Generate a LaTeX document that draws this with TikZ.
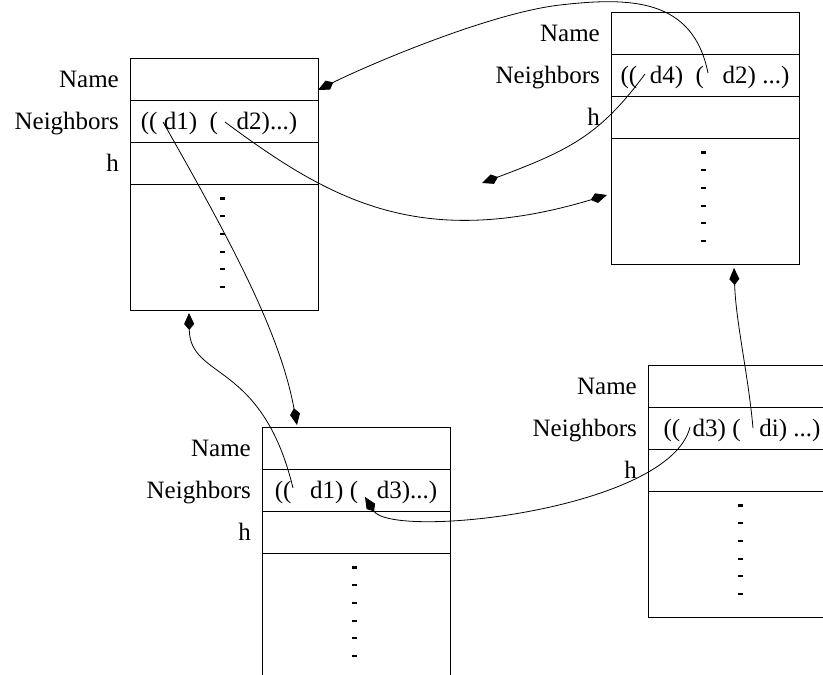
\documentclass[tikz,border=0pt]{standalone}
\usepackage{fontspec}
\setmainfont{Liberation Serif}
\usetikzlibrary{arrows.meta,positioning}

\begin{document}
\begin{tikzpicture}[x=1pt,y=-1pt,
  txt/.style={font=\fontsize{25}{30}\selectfont, text height=16pt, text depth=0pt},
  field/.style={txt, draw, line width=0.8pt, minimum width=188pt, minimum height=42pt, inner sep=0pt, outer sep=0pt, anchor=north west},
  body/.style={field, minimum height=126pt},
  lbl/.style={txt, inner sep=0pt},
  link/.style={line width=0.8pt, -{Kite[length=17pt,width=10pt,inset=6pt]}},
  tick/.style={line width=2.2pt}]
\useasboundingbox (0,0) rectangle (823,675);
\clip (0,0) rectangle (823,675);

% record a
\node[field](a-name) at (130,58) {};
\node[field, below=0pt of a-name](a-nbr) {((\ d1)\ \ (\ \ \ d2)...)\hspace*{10pt}};
\node[field, below=0pt of a-nbr](a-h) {};
\node[body, below=0pt of a-h](a-body) {};

% record b
\node[field](b-name) at (611,12) {};
\node[field, below=0pt of b-name](b-nbr) {((\ \ d4)\ \ (\ \ \ d2)\ ...)};
\node[field, below=0pt of b-nbr](b-h) {};
\node[body, below=0pt of b-h](b-body) {};

% record c
\node[field](c-name) at (262,427) {};
\node[field, below=0pt of c-name](c-nbr) {((\ \ \ d1)\ (\ \ \ d3)...)};
\node[field, below=0pt of c-nbr](c-h) {};
\node[body, below=0pt of c-h, minimum height=150pt](c-body) {};

% record d
\node[field](d-name) at (648,365) {};
\node[field, below=0pt of d-name](d-nbr) {((\ \ d3)\ (\ \ \ di)\ ...)};
\node[field, below=0pt of d-nbr](d-h) {};
\node[body, below=0pt of d-h](d-body) {};

\foreach \r in {a,b,c,d} {
  \node[lbl, left=11pt of \r-name] {Name};
  \node[lbl, left=11pt of \r-nbr] {Neighbors};
  \node[lbl, left=11pt of \r-h] {h};
  \foreach \k in {0,...,5}
    \draw[tick] ([xshift=-4pt,yshift={-(14.5+17.7*\k)*1pt}]\r-body.north) -- ++(5,0);
}

\coordinate (a-d1) at (163,122);
\coordinate (a-d2) at (225,122);
\coordinate (b-d4) at (645,74);
\coordinate (b-d2) at (708,73);
\coordinate (c-d1) at (293,488);
\coordinate (c-d3) at (365,497);
\coordinate (d-d3) at (690,427);
\coordinate (d-di) at (753,428);
\coordinate (loose) at (482,183);
\coordinate (over) at (560,5);

\draw[link] (a-d1) .. controls +(67,118) and +(-17,-93) .. ([xshift=35pt,yshift=2pt]c-name.north west);
\draw[link] (a-d2) .. controls +(105,78) and +(-187,56) .. ([xshift=-4pt,yshift=6pt]b-body.west);
\draw[link] (b-d2) .. controls +(-15,-75) and +(70,-8) .. (over) .. controls +(-70,8) and +(50,-25) .. ([yshift=10pt]a-name.south east);
\draw[link] (b-d4) .. controls +(-45,61) and +(88,-33) .. (loose);
\draw[link] (d-di) .. controls +(-5,-55) and +(2,55) .. ([xshift=29pt,yshift=-4pt]b-body.south);
\draw[link] (d-d3) .. controls +(-20,83) and +(27,43) .. (c-d3);
\draw[link] (c-d1) .. controls +(-31,-128) and +(1,67) .. ([xshift=-35pt,yshift=-3pt]a-body.south);
\end{tikzpicture}
\end{document}
